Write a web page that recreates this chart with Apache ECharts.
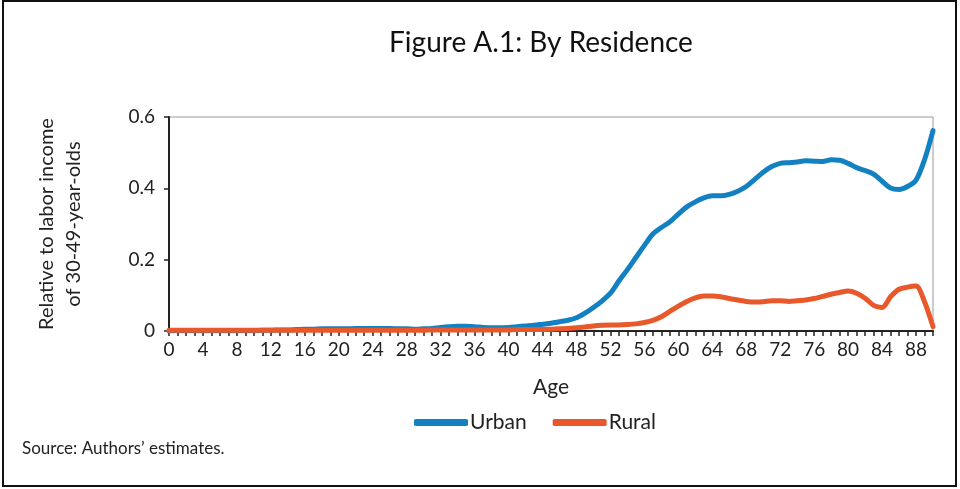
<!DOCTYPE html>
<html>
<head>
<meta charset="utf-8">
<script src="https://cdn.jsdelivr.net/npm/echarts@6/dist/echarts.min.js"></script>
<style>
  html, body { margin: 0; padding: 0; background: #fff; }
  #chart { width: 960px; height: 489px; }
</style>
</head>
<body>
<div id="chart"></div>
<script>
// ages 0..90
var ages = [];
for (var i = 0; i <= 90; i++) ages.push(String(i));

var urban = [
  0.001, 0.001, 0.001, 0.001, 0.001, 0.001, 0.001, 0.001, 0.001, 0.001,
  0.001, 0.002, 0.002, 0.003, 0.003, 0.004, 0.005, 0.005, 0.006, 0.006,
  0.006, 0.006, 0.007, 0.007, 0.007, 0.007, 0.007, 0.006, 0.006, 0.005,
  0.006, 0.007, 0.010, 0.012, 0.013, 0.013, 0.012, 0.010, 0.009, 0.009,
  0.010, 0.012, 0.014, 0.016, 0.019, 0.022, 0.026, 0.030, 0.037, 0.050,
  0.066, 0.084, 0.106, 0.140, 0.172, 0.206, 0.240, 0.272, 0.290, 0.306,
  0.328, 0.348, 0.362, 0.373, 0.379, 0.379, 0.383, 0.392, 0.405, 0.425,
  0.445, 0.461, 0.470, 0.472, 0.474, 0.477, 0.476, 0.475, 0.480, 0.479,
  0.470, 0.458, 0.450, 0.440, 0.420, 0.401, 0.397, 0.405, 0.423, 0.480,
  0.562
];

var rural = [
  0.002, 0.002, 0.002, 0.002, 0.002, 0.002, 0.002, 0.002, 0.002, 0.002,
  0.002, 0.002, 0.002, 0.002, 0.002, 0.002, 0.002, 0.002, 0.002, 0.002,
  0.002, 0.002, 0.002, 0.002, 0.002, 0.002, 0.002, 0.002, 0.002, 0.002,
  0.002, 0.003, 0.003, 0.003, 0.003, 0.003, 0.003, 0.003, 0.003, 0.003,
  0.003, 0.004, 0.004, 0.004, 0.004, 0.005, 0.006, 0.007, 0.009, 0.011,
  0.014, 0.016, 0.017, 0.017, 0.018, 0.020, 0.024, 0.030, 0.040, 0.055,
  0.070, 0.083, 0.093, 0.098, 0.098, 0.096, 0.091, 0.087, 0.083, 0.081,
  0.082, 0.085, 0.085, 0.083, 0.085, 0.087, 0.091, 0.097, 0.103, 0.108,
  0.112, 0.106, 0.092, 0.072, 0.066, 0.096, 0.117, 0.123, 0.126, 0.082,
  0.012
];

var seriesNames = ['Urban', 'Rural'];
var colors = ['#1380c2', '#e8582a'];

var chart = echarts.init(document.getElementById('chart'));
var font = 'Lato';
var option = {
  animation: false,
  backgroundColor: '#fff',
  title: {
    text: 'Figure A.1: By Residence',
    left: 536,
    top: 24,
    textAlign: 'center',
    textStyle: { fontFamily: font, fontSize: 28, fontWeight: 'normal', color: '#111' }
  },
  legend: {
    data: seriesNames,
    left: 409,
    top: 407,
    itemWidth: 54,
    itemHeight: 7,
    itemGap: 26,
    icon: 'roundRect',
    textStyle: { fontFamily: font, fontSize: 21, color: '#222', padding: [0, 0, 0, -3] }
  },
  grid: {
    left: 169, right: 27, top: 117, bottom: 158,
    show: true, borderColor: '#999', borderWidth: 1
  },
  xAxis: {
    type: 'category',
    data: ages,
    boundaryGap: false,
    name: 'Age',
    nameLocation: 'middle',
    nameGap: 46,
    nameTextStyle: { fontFamily: font, fontSize: 21, color: '#222' },
    axisLine: { lineStyle: { color: '#222', width: 2 } },
    axisTick: { interval: 0, length: 5, lineStyle: { color: '#222', width: 1.5 } },
    axisLabel: { interval: 3, fontFamily: font, fontSize: 19, color: '#222', margin: 9 }
  },
  yAxis: {
    type: 'value',
    min: 0, max: 0.6, interval: 0.2,
    name: 'Relative to labor income\nof 30-49-year-olds',
    nameLocation: 'middle',
    nameGap: 82,
    nameTextStyle: { fontFamily: font, fontSize: 20, color: '#222', lineHeight: 27 },
    splitLine: { show: false },
    axisLine: { show: true, lineStyle: { color: '#222', width: 2 } },
    axisTick: { show: true, length: 5, lineStyle: { color: '#222', width: 1.5 } },
    axisLabel: {
      fontFamily: font, fontSize: 19, color: '#222', margin: 14,
      formatter: function (v) { return v === 0 ? '0' : v.toFixed(1); }
    }
  },
  series: seriesNames.map(function (n, k) {
    return {
      name: n,
      type: 'line',
      data: k === 0 ? urban : rural,
      smooth: 0.3,
      showSymbol: false,
      color: colors[k],
      lineStyle: { width: 5, color: colors[k], cap: 'round', join: 'round' },
      z: k === 0 ? 2 : 3
    };
  }),
  graphic: [
    {
      type: 'rect',
      shape: { x: 3, y: 1, width: 953, height: 485 },
      style: { fill: 'none', stroke: '#111', lineWidth: 2 },
      silent: true
    },
    {
      type: 'text',
      left: 22, top: 440,
      style: { text: 'Source: Authors\u2019 estimates.', font: '17px Lato', fill: '#222' }
    }
  ]
};
chart.setOption(option);
</script>
</body>
</html>
